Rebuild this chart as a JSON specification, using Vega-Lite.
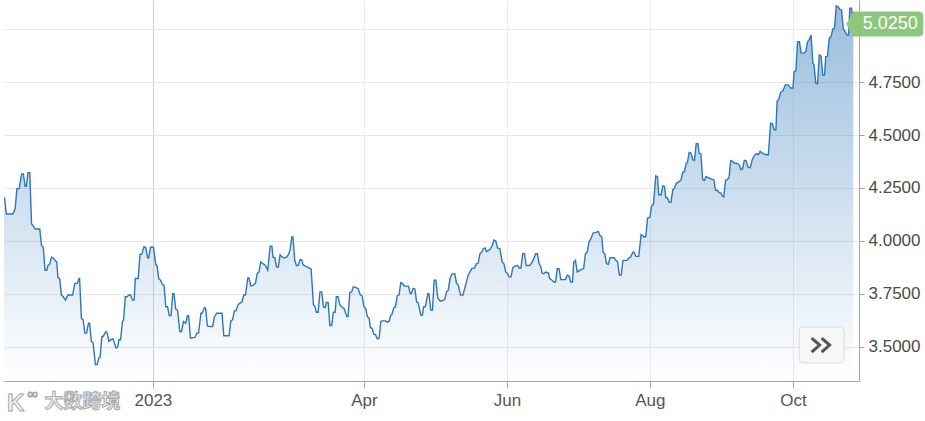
{
  "$schema": "https://vega.github.io/schema/vega-lite/v6.json",
  "width": 855,
  "height": 381,
  "autosize": {"type": "none"},
  "padding": {"left": 4, "top": 0, "right": 66, "bottom": 40},
  "config": {"view": {"stroke": null}, "font": "Liberation Sans", "axis": {"labelFont": "Liberation Sans"}},
  "datasets": {
    "yield": [
{"t":"2022-10-29T12:00","v":4.202},{"t":"2022-10-29T18:00","v":4.202},{"t":"2022-10-30T12:00","v":4.127},{"t":"2022-11-02T06:00","v":4.127},{"t":"2022-11-03T06:00","v":4.15},{"t":"2022-11-04T00:00","v":4.247},{"t":"2022-11-05T00:00","v":4.247},{"t":"2022-11-06T00:00","v":4.316},{"t":"2022-11-06T18:00","v":4.316},{"t":"2022-11-07T12:00","v":4.258},{"t":"2022-11-08T00:00","v":4.258},{"t":"2022-11-08T18:00","v":4.322},{"t":"2022-11-09T12:00","v":4.322},{"t":"2022-11-10T06:00","v":4.08},{"t":"2022-11-11T00:00","v":4.07},{"t":"2022-11-11T18:00","v":4.056},{"t":"2022-11-13T18:00","v":4.056},{"t":"2022-11-14T12:00","v":3.978},{"t":"2022-11-15T06:00","v":3.97},{"t":"2022-11-16T00:00","v":3.861},{"t":"2022-11-16T18:00","v":3.861},{"t":"2022-11-17T06:00","v":3.884},{"t":"2022-11-18T00:00","v":3.89},{"t":"2022-11-18T18:00","v":3.923},{"t":"2022-11-19T12:00","v":3.92},{"t":"2022-11-20T06:00","v":3.908},{"t":"2022-11-21T00:00","v":3.9},{"t":"2022-11-21T12:00","v":3.827},{"t":"2022-11-22T06:00","v":3.82},{"t":"2022-11-23T00:00","v":3.744},{"t":"2022-11-23T18:00","v":3.736},{"t":"2022-11-24T18:00","v":3.72},{"t":"2022-11-25T18:00","v":3.744},{"t":"2022-11-27T18:00","v":3.744},{"t":"2022-11-28T18:00","v":3.799},{"t":"2022-11-29T18:00","v":3.799},{"t":"2022-11-30T12:00","v":3.822},{"t":"2022-11-30T18:00","v":3.822},{"t":"2022-12-01T12:00","v":3.634},{"t":"2022-12-02T06:00","v":3.627},{"t":"2022-12-03T00:00","v":3.564},{"t":"2022-12-03T18:00","v":3.564},{"t":"2022-12-04T12:00","v":3.611},{"t":"2022-12-05T00:00","v":3.611},{"t":"2022-12-05T18:00","v":3.525},{"t":"2022-12-06T12:00","v":3.517},{"t":"2022-12-07T12:00","v":3.416},{"t":"2022-12-08T06:00","v":3.416},{"t":"2022-12-09T00:00","v":3.447},{"t":"2022-12-09T12:00","v":3.451},{"t":"2022-12-10T06:00","v":3.548},{"t":"2022-12-10T18:00","v":3.548},{"t":"2022-12-12T00:00","v":3.572},{"t":"2022-12-12T12:00","v":3.564},{"t":"2022-12-13T06:00","v":3.525},{"t":"2022-12-14T00:00","v":3.533},{"t":"2022-12-15T00:00","v":3.537},{"t":"2022-12-16T06:00","v":3.494},{"t":"2022-12-17T00:00","v":3.498},{"t":"2022-12-17T12:00","v":3.533},{"t":"2022-12-18T06:00","v":3.533},{"t":"2022-12-19T00:00","v":3.619},{"t":"2022-12-19T12:00","v":3.627},{"t":"2022-12-20T06:00","v":3.736},{"t":"2022-12-21T00:00","v":3.736},{"t":"2022-12-21T18:00","v":3.744},{"t":"2022-12-22T12:00","v":3.744},{"t":"2022-12-23T06:00","v":3.72},{"t":"2022-12-24T00:00","v":3.72},{"t":"2022-12-24T12:00","v":3.822},{"t":"2022-12-25T18:00","v":3.822},{"t":"2022-12-26T12:00","v":3.936},{"t":"2022-12-27T06:00","v":3.936},{"t":"2022-12-28T06:00","v":3.973},{"t":"2022-12-29T00:00","v":3.967},{"t":"2022-12-29T18:00","v":3.92},{"t":"2022-12-30T06:00","v":3.92},{"t":"2022-12-31T00:00","v":3.97},{"t":"2023-01-01T06:00","v":3.97},{"t":"2023-01-02T06:00","v":3.888},{"t":"2023-01-02T18:00","v":3.884},{"t":"2023-01-03T12:00","v":3.822},{"t":"2023-01-04T06:00","v":3.814},{"t":"2023-01-05T00:00","v":3.795},{"t":"2023-01-05T18:00","v":3.79},{"t":"2023-01-06T12:00","v":3.689},{"t":"2023-01-07T06:00","v":3.689},{"t":"2023-01-08T00:00","v":3.647},{"t":"2023-01-08T18:00","v":3.647},{"t":"2023-01-09T12:00","v":3.751},{"t":"2023-01-10T00:00","v":3.751},{"t":"2023-01-10T18:00","v":3.678},{"t":"2023-01-11T12:00","v":3.673},{"t":"2023-01-12T12:00","v":3.572},{"t":"2023-01-13T06:00","v":3.572},{"t":"2023-01-14T00:00","v":3.619},{"t":"2023-01-15T00:00","v":3.611},{"t":"2023-01-15T18:00","v":3.647},{"t":"2023-01-16T06:00","v":3.647},{"t":"2023-01-17T00:00","v":3.541},{"t":"2023-01-19T00:00","v":3.544},{"t":"2023-01-19T18:00","v":3.564},{"t":"2023-01-20T12:00","v":3.564},{"t":"2023-01-21T12:00","v":3.658},{"t":"2023-01-22T00:00","v":3.658},{"t":"2023-01-23T00:00","v":3.686},{"t":"2023-01-23T12:00","v":3.681},{"t":"2023-01-24T06:00","v":3.598},{"t":"2023-01-25T12:00","v":3.595},{"t":"2023-01-26T12:00","v":3.595},{"t":"2023-01-27T06:00","v":3.642},{"t":"2023-01-28T06:00","v":3.658},{"t":"2023-01-30T12:00","v":3.658},{"t":"2023-01-31T06:00","v":3.552},{"t":"2023-02-02T12:00","v":3.552},{"t":"2023-02-03T06:00","v":3.622},{"t":"2023-02-04T00:00","v":3.627},{"t":"2023-02-04T18:00","v":3.669},{"t":"2023-02-05T12:00","v":3.67},{"t":"2023-02-06T06:00","v":3.697},{"t":"2023-02-07T00:00","v":3.705},{"t":"2023-02-08T00:00","v":3.712},{"t":"2023-02-08T18:00","v":3.744},{"t":"2023-02-09T12:00","v":3.744},{"t":"2023-02-10T12:00","v":3.825},{"t":"2023-02-11T00:00","v":3.825},{"t":"2023-02-11T18:00","v":3.787},{"t":"2023-02-12T18:00","v":3.79},{"t":"2023-02-13T18:00","v":3.799},{"t":"2023-02-14T12:00","v":3.845},{"t":"2023-02-15T06:00","v":3.853},{"t":"2023-02-16T00:00","v":3.9},{"t":"2023-02-17T00:00","v":3.892},{"t":"2023-02-18T00:00","v":3.884},{"t":"2023-02-19T00:00","v":3.861},{"t":"2023-02-20T00:00","v":3.975},{"t":"2023-02-20T18:00","v":3.975},{"t":"2023-02-21T06:00","v":3.923},{"t":"2023-02-22T00:00","v":3.92},{"t":"2023-02-22T18:00","v":3.876},{"t":"2023-02-23T12:00","v":3.876},{"t":"2023-02-24T06:00","v":3.934},{"t":"2023-02-25T06:00","v":3.923},{"t":"2023-02-26T00:00","v":3.919},{"t":"2023-02-27T00:00","v":3.923},{"t":"2023-02-27T18:00","v":3.934},{"t":"2023-02-28T12:00","v":3.955},{"t":"2023-03-01T06:00","v":4.019},{"t":"2023-03-01T18:00","v":4.019},{"t":"2023-03-02T12:00","v":3.908},{"t":"2023-03-03T06:00","v":3.884},{"t":"2023-03-04T00:00","v":3.884},{"t":"2023-03-04T18:00","v":3.911},{"t":"2023-03-05T12:00","v":3.911},{"t":"2023-03-06T00:00","v":3.888},{"t":"2023-03-06T18:00","v":3.882},{"t":"2023-03-07T12:00","v":3.878},{"t":"2023-03-08T12:00","v":3.872},{"t":"2023-03-09T12:00","v":3.867},{"t":"2023-03-10T12:00","v":3.697},{"t":"2023-03-11T00:00","v":3.694},{"t":"2023-03-11T18:00","v":3.663},{"t":"2023-03-12T12:00","v":3.663},{"t":"2023-03-13T06:00","v":3.759},{"t":"2023-03-14T00:00","v":3.759},{"t":"2023-03-14T18:00","v":3.689},{"t":"2023-03-15T12:00","v":3.684},{"t":"2023-03-16T00:00","v":3.709},{"t":"2023-03-16T18:00","v":3.709},{"t":"2023-03-17T12:00","v":3.6},{"t":"2023-03-18T06:00","v":3.6},{"t":"2023-03-19T00:00","v":3.663},{"t":"2023-03-19T18:00","v":3.663},{"t":"2023-03-20T06:00","v":3.736},{"t":"2023-03-21T00:00","v":3.736},{"t":"2023-03-21T18:00","v":3.697},{"t":"2023-03-22T12:00","v":3.689},{"t":"2023-03-23T12:00","v":3.681},{"t":"2023-03-24T18:00","v":3.642},{"t":"2023-03-25T06:00","v":3.642},{"t":"2023-03-26T00:00","v":3.756},{"t":"2023-03-26T18:00","v":3.759},{"t":"2023-03-27T12:00","v":3.783},{"t":"2023-03-28T12:00","v":3.78},{"t":"2023-03-29T12:00","v":3.775},{"t":"2023-03-30T12:00","v":3.744},{"t":"2023-03-31T06:00","v":3.741},{"t":"2023-04-01T00:00","v":3.689},{"t":"2023-04-01T18:00","v":3.681},{"t":"2023-04-02T12:00","v":3.642},{"t":"2023-04-03T06:00","v":3.634},{"t":"2023-04-03T18:00","v":3.591},{"t":"2023-04-04T12:00","v":3.587},{"t":"2023-04-05T06:00","v":3.559},{"t":"2023-04-06T00:00","v":3.556},{"t":"2023-04-06T18:00","v":3.537},{"t":"2023-04-07T12:00","v":3.541},{"t":"2023-04-08T06:00","v":3.619},{"t":"2023-04-08T18:00","v":3.622},{"t":"2023-04-10T06:00","v":3.622},{"t":"2023-04-11T00:00","v":3.616},{"t":"2023-04-11T18:00","v":3.619},{"t":"2023-04-12T12:00","v":3.65},{"t":"2023-04-13T00:00","v":3.653},{"t":"2023-04-13T18:00","v":3.684},{"t":"2023-04-14T12:00","v":3.689},{"t":"2023-04-15T06:00","v":3.741},{"t":"2023-04-16T00:00","v":3.744},{"t":"2023-04-16T18:00","v":3.803},{"t":"2023-04-17T12:00","v":3.798},{"t":"2023-04-18T06:00","v":3.787},{"t":"2023-04-20T00:00","v":3.786},{"t":"2023-04-20T18:00","v":3.751},{"t":"2023-04-21T06:00","v":3.751},{"t":"2023-04-22T00:00","v":3.775},{"t":"2023-04-22T18:00","v":3.772},{"t":"2023-04-23T12:00","v":3.712},{"t":"2023-04-24T06:00","v":3.705},{"t":"2023-04-25T06:00","v":3.65},{"t":"2023-04-26T00:00","v":3.65},{"t":"2023-04-26T12:00","v":3.689},{"t":"2023-04-27T06:00","v":3.689},{"t":"2023-04-28T06:00","v":3.751},{"t":"2023-04-28T18:00","v":3.751},{"t":"2023-04-29T12:00","v":3.673},{"t":"2023-04-30T06:00","v":3.673},{"t":"2023-05-01T00:00","v":3.814},{"t":"2023-05-01T18:00","v":3.814},{"t":"2023-05-02T12:00","v":3.731},{"t":"2023-05-03T12:00","v":3.716},{"t":"2023-05-04T06:00","v":3.716},{"t":"2023-05-05T12:00","v":3.724},{"t":"2023-05-06T06:00","v":3.759},{"t":"2023-05-07T00:00","v":3.767},{"t":"2023-05-07T18:00","v":3.822},{"t":"2023-05-08T12:00","v":3.842},{"t":"2023-05-09T18:00","v":3.845},{"t":"2023-05-10T12:00","v":3.799},{"t":"2023-05-11T06:00","v":3.791},{"t":"2023-05-12T06:00","v":3.744},{"t":"2023-05-13T06:00","v":3.744},{"t":"2023-05-14T00:00","v":3.775},{"t":"2023-05-14T18:00","v":3.806},{"t":"2023-05-15T12:00","v":3.838},{"t":"2023-05-17T00:00","v":3.869},{"t":"2023-05-18T06:00","v":3.872},{"t":"2023-05-19T00:00","v":3.892},{"t":"2023-05-19T18:00","v":3.895},{"t":"2023-05-20T12:00","v":3.939},{"t":"2023-05-21T06:00","v":3.947},{"t":"2023-05-22T00:00","v":3.963},{"t":"2023-05-22T18:00","v":3.967},{"t":"2023-05-23T06:00","v":3.95},{"t":"2023-05-24T06:00","v":3.955},{"t":"2023-05-25T00:00","v":3.963},{"t":"2023-05-25T18:00","v":3.978},{"t":"2023-05-26T12:00","v":4.004},{"t":"2023-05-27T06:00","v":4.0},{"t":"2023-05-28T00:00","v":3.967},{"t":"2023-05-29T00:00","v":3.963},{"t":"2023-05-30T00:00","v":3.9},{"t":"2023-05-30T18:00","v":3.892},{"t":"2023-05-31T12:00","v":3.853},{"t":"2023-06-01T06:00","v":3.845},{"t":"2023-06-02T00:00","v":3.83},{"t":"2023-06-02T18:00","v":3.83},{"t":"2023-06-03T12:00","v":3.872},{"t":"2023-06-04T06:00","v":3.88},{"t":"2023-06-05T12:00","v":3.884},{"t":"2023-06-06T06:00","v":3.872},{"t":"2023-06-07T00:00","v":3.872},{"t":"2023-06-07T18:00","v":3.939},{"t":"2023-06-08T12:00","v":3.939},{"t":"2023-06-09T06:00","v":3.884},{"t":"2023-06-10T18:00","v":3.884},{"t":"2023-06-11T12:00","v":3.895},{"t":"2023-06-12T12:00","v":3.916},{"t":"2023-06-13T06:00","v":3.939},{"t":"2023-06-14T00:00","v":3.939},{"t":"2023-06-14T18:00","v":3.892},{"t":"2023-06-15T12:00","v":3.877},{"t":"2023-06-16T00:00","v":3.848},{"t":"2023-06-16T18:00","v":3.845},{"t":"2023-06-17T12:00","v":3.853},{"t":"2023-06-18T18:00","v":3.848},{"t":"2023-06-19T06:00","v":3.822},{"t":"2023-06-20T06:00","v":3.814},{"t":"2023-06-21T00:00","v":3.806},{"t":"2023-06-21T18:00","v":3.806},{"t":"2023-06-22T12:00","v":3.869},{"t":"2023-06-23T06:00","v":3.869},{"t":"2023-06-24T00:00","v":3.817},{"t":"2023-06-26T00:00","v":3.817},{"t":"2023-06-26T18:00","v":3.838},{"t":"2023-06-27T12:00","v":3.834},{"t":"2023-06-28T06:00","v":3.806},{"t":"2023-06-29T00:00","v":3.806},{"t":"2023-06-29T12:00","v":3.9},{"t":"2023-06-30T06:00","v":3.908},{"t":"2023-07-01T00:00","v":3.853},{"t":"2023-07-01T18:00","v":3.858},{"t":"2023-07-02T12:00","v":3.864},{"t":"2023-07-03T18:00","v":3.869},{"t":"2023-07-04T12:00","v":3.939},{"t":"2023-07-05T06:00","v":3.947},{"t":"2023-07-06T00:00","v":3.994},{"t":"2023-07-06T18:00","v":4.008},{"t":"2023-07-07T18:00","v":4.037},{"t":"2023-07-09T00:00","v":4.04},{"t":"2023-07-10T00:00","v":4.045},{"t":"2023-07-10T18:00","v":4.024},{"t":"2023-07-11T12:00","v":4.018},{"t":"2023-07-12T00:00","v":3.947},{"t":"2023-07-12T18:00","v":3.939},{"t":"2023-07-13T12:00","v":3.892},{"t":"2023-07-14T06:00","v":3.889},{"t":"2023-07-15T00:00","v":3.92},{"t":"2023-07-16T18:00","v":3.92},{"t":"2023-07-17T12:00","v":3.908},{"t":"2023-07-18T06:00","v":3.9},{"t":"2023-07-19T00:00","v":3.838},{"t":"2023-07-19T18:00","v":3.838},{"t":"2023-07-20T12:00","v":3.908},{"t":"2023-07-22T06:00","v":3.908},{"t":"2023-07-23T00:00","v":3.919},{"t":"2023-07-23T18:00","v":3.923},{"t":"2023-07-24T18:00","v":3.947},{"t":"2023-07-25T06:00","v":3.947},{"t":"2023-07-26T00:00","v":3.927},{"t":"2023-07-27T06:00","v":3.927},{"t":"2023-07-28T06:00","v":4.03},{"t":"2023-07-29T00:00","v":4.024},{"t":"2023-07-29T12:00","v":4.018},{"t":"2023-07-30T06:00","v":4.021},{"t":"2023-07-31T00:00","v":4.108},{"t":"2023-08-01T00:00","v":4.112},{"t":"2023-08-01T18:00","v":4.166},{"t":"2023-08-02T12:00","v":4.171},{"t":"2023-08-03T12:00","v":4.307},{"t":"2023-08-04T06:00","v":4.303},{"t":"2023-08-04T18:00","v":4.218},{"t":"2023-08-05T18:00","v":4.218},{"t":"2023-08-06T12:00","v":4.26},{"t":"2023-08-07T06:00","v":4.257},{"t":"2023-08-07T18:00","v":4.205},{"t":"2023-08-08T12:00","v":4.202},{"t":"2023-08-09T06:00","v":4.182},{"t":"2023-08-10T00:00","v":4.182},{"t":"2023-08-10T18:00","v":4.241},{"t":"2023-08-11T12:00","v":4.249},{"t":"2023-08-12T06:00","v":4.272},{"t":"2023-08-12T18:00","v":4.275},{"t":"2023-08-13T12:00","v":4.28},{"t":"2023-08-14T06:00","v":4.288},{"t":"2023-08-15T00:00","v":4.323},{"t":"2023-08-15T18:00","v":4.328},{"t":"2023-08-16T12:00","v":4.367},{"t":"2023-08-17T00:00","v":4.37},{"t":"2023-08-17T18:00","v":4.418},{"t":"2023-08-18T12:00","v":4.415},{"t":"2023-08-19T06:00","v":4.384},{"t":"2023-08-20T00:00","v":4.38},{"t":"2023-08-20T18:00","v":4.459},{"t":"2023-08-21T12:00","v":4.459},{"t":"2023-08-22T00:00","v":4.415},{"t":"2023-08-22T18:00","v":4.412},{"t":"2023-08-23T12:00","v":4.289},{"t":"2023-08-24T06:00","v":4.286},{"t":"2023-08-25T00:00","v":4.304},{"t":"2023-08-26T06:00","v":4.297},{"t":"2023-08-27T06:00","v":4.292},{"t":"2023-08-28T06:00","v":4.289},{"t":"2023-08-29T00:00","v":4.239},{"t":"2023-08-29T18:00","v":4.239},{"t":"2023-08-30T12:00","v":4.229},{"t":"2023-08-31T06:00","v":4.226},{"t":"2023-09-01T00:00","v":4.211},{"t":"2023-09-01T12:00","v":4.208},{"t":"2023-09-02T06:00","v":4.286},{"t":"2023-09-03T00:00","v":4.289},{"t":"2023-09-03T18:00","v":4.3},{"t":"2023-09-04T12:00","v":4.38},{"t":"2023-09-05T06:00","v":4.376},{"t":"2023-09-06T00:00","v":4.368},{"t":"2023-09-07T12:00","v":4.365},{"t":"2023-09-08T06:00","v":4.356},{"t":"2023-09-08T18:00","v":4.337},{"t":"2023-09-09T12:00","v":4.34},{"t":"2023-09-10T06:00","v":4.38},{"t":"2023-09-11T00:00","v":4.38},{"t":"2023-09-11T18:00","v":4.349},{"t":"2023-09-12T18:00","v":4.345},{"t":"2023-09-13T18:00","v":4.387},{"t":"2023-09-14T18:00","v":4.407},{"t":"2023-09-15T12:00","v":4.412},{"t":"2023-09-16T06:00","v":4.407},{"t":"2023-09-17T00:00","v":4.423},{"t":"2023-09-18T06:00","v":4.412},{"t":"2023-09-19T18:00","v":4.407},{"t":"2023-09-20T12:00","v":4.407},{"t":"2023-09-21T12:00","v":4.556},{"t":"2023-09-22T06:00","v":4.553},{"t":"2023-09-23T00:00","v":4.525},{"t":"2023-09-23T18:00","v":4.525},{"t":"2023-09-24T06:00","v":4.659},{"t":"2023-09-25T00:00","v":4.669},{"t":"2023-09-25T18:00","v":4.701},{"t":"2023-09-26T18:00","v":4.709},{"t":"2023-09-27T18:00","v":4.737},{"t":"2023-09-29T00:00","v":4.737},{"t":"2023-09-30T00:00","v":4.722},{"t":"2023-10-01T00:00","v":4.722},{"t":"2023-10-01T12:00","v":4.8},{"t":"2023-10-02T06:00","v":4.805},{"t":"2023-10-03T00:00","v":4.941},{"t":"2023-10-03T18:00","v":4.941},{"t":"2023-10-04T12:00","v":4.887},{"t":"2023-10-05T12:00","v":4.887},{"t":"2023-10-06T12:00","v":4.894},{"t":"2023-10-07T06:00","v":4.941},{"t":"2023-10-08T00:00","v":4.952},{"t":"2023-10-08T18:00","v":4.973},{"t":"2023-10-09T12:00","v":4.839},{"t":"2023-10-10T00:00","v":4.832},{"t":"2023-10-10T18:00","v":4.745},{"t":"2023-10-11T12:00","v":4.742},{"t":"2023-10-12T06:00","v":4.879},{"t":"2023-10-13T00:00","v":4.874},{"t":"2023-10-13T18:00","v":4.784},{"t":"2023-10-14T12:00","v":4.784},{"t":"2023-10-15T00:00","v":4.87},{"t":"2023-10-15T18:00","v":4.873},{"t":"2023-10-16T12:00","v":4.957},{"t":"2023-10-17T06:00","v":4.965},{"t":"2023-10-18T00:00","v":5.0},{"t":"2023-10-18T18:00","v":5.005},{"t":"2023-10-19T12:00","v":5.11},{"t":"2023-10-20T06:00","v":5.106},{"t":"2023-10-21T00:00","v":5.094},{"t":"2023-10-21T18:00","v":5.091},{"t":"2023-10-22T12:00","v":5.0},{"t":"2023-10-23T06:00","v":4.989},{"t":"2023-10-24T00:00","v":4.973},{"t":"2023-10-24T18:00","v":4.973},{"t":"2023-10-25T06:00","v":5.099},{"t":"2023-10-26T00:00","v":5.099},{"t":"2023-10-26T18:00","v":5.025}
    ],
    "last": [{"t": "2023-10-26T18:00", "v": 5.025, "label": "5.0250"}],
    "button": [{"t": "2023-10-13T06:00", "v": 3.508}],
    "brand": [{"t": "2022-12-02T00:00", "v": 3.2387, "label": "大数跨境"}],
    "logo": [{"t": "2022-11-03T12:00", "v": 3.229, "label": "K"}],
    "logo2": [{"t": "2022-11-10T18:00", "v": 3.2765, "label": "∞"}]
  },
  "encoding": {
    "x": {
      "field": "t", "type": "temporal",
      "scale": {"domain": [{"year": 2022, "month": 10, "date": 29, "hours": 12}, {"year": 2023, "month": 10, "date": 29, "hours": 4, "minutes": 30}]},
      "axis": {
        "title": null,
        "values": [{"year": 2023, "month": 1, "date": 1}, {"year": 2023, "month": 4, "date": 1}, {"year": 2023, "month": 6, "date": 1}, {"year": 2023, "month": 8, "date": 1}, {"year": 2023, "month": 10, "date": 1}],
        "labelExpr": "month(datum.value) === 0 ? timeFormat(datum.value, '%Y') : timeFormat(datum.value, '%b')",
        "grid": true,
        "gridColor": {"condition": {"test": "month(datum.value) === 0", "value": "#d2d2d2"}, "value": "#ebebeb"},
        "gridWidth": 1,
        "domainColor": "#a6a6a6",
        "tickColor": "#a6a6a6",
        "tickSize": 7,
        "labelPadding": 4,
        "labelFontSize": 17,
        "labelColor": "#555555",
        "labelFlush": false,
        "labelOverlap": false
      }
    },
    "y": {
      "field": "v", "type": "quantitative",
      "scale": {"domain": [3.338, 5.138], "nice": false, "zero": false},
      "axis": {
        "title": null,
        "orient": "right",
        "values": [3.5, 3.75, 4.0, 4.25, 4.5, 4.75, 5.0],
        "labelExpr": "datum.value >= 5 ? '' : format(datum.value, '.4f')",
        "grid": true,
        "gridColor": "#e8e8e8",
        "domainColor": "#a6a6a6",
        "tickColor": "#a6a6a6",
        "tickSize": 5,
        "labelPadding": 4,
        "labelFontSize": 17,
        "labelColor": "#4a4a4a",
        "labelBaseline": "middle"
      }
    }
  },
  "layer": [
    {
      "data": {"name": "yield"},
      "mark": {
        "type": "area",
        "fill": {"gradient": "linear", "x1": 0, "y1": 0, "x2": 0, "y2": 1, "stops": [{"offset": 0, "color": "rgba(45,119,185,0.48)"}, {"offset": 1, "color": "rgba(45,119,185,0.0)"}]}
      },
      "encoding": {"y2": {"datum": 3.338}}
    },
    {
      "data": {"name": "yield"},
      "mark": {"type": "line", "color": "#2d77b9", "strokeWidth": 1.4}
    },
    {
      "data": {"name": "last"},
      "mark": {"type": "point", "shape": "M-7,0L0,-12.5L65,-12.5Q70,-12.5 70,-7.5L70,7.5Q70,12.5 65,12.5L0,12.5Z", "size": 4, "filled": true, "fill": "#8dc77b", "strokeWidth": 0, "opacity": 1}
    },
    {
      "data": {"name": "last"},
      "mark": {"type": "text", "dx": 37, "align": "center", "baseline": "middle", "fontSize": 18, "color": "#ffffff"},
      "encoding": {"text": {"field": "label"}}
    },
    {
      "data": {"name": "button"},
      "mark": {"type": "point", "shape": "M-22.5,-13Q-22.5,-18 -17.5,-18L17.5,-18Q22.5,-18 22.5,-13L22.5,13Q22.5,18 17.5,18L-17.5,18Q-22.5,18 -22.5,13Z", "size": 4, "filled": true, "fill": "#f7f7f7", "stroke": "#dadada", "strokeWidth": 1, "opacity": 1}
    },
    {
      "data": {"name": "button"},
      "mark": {"type": "point", "shape": "M-10,-7L-2,0L-10,7M0,-7L8,0L0,7", "size": 4, "filled": false, "stroke": "#555555", "strokeWidth": 3, "opacity": 1}
    },
    {
      "data": {"name": "brand"},
      "mark": {"type": "text", "align": "center", "baseline": "middle", "font": "Noto Sans CJK SC", "fontSize": 19, "fontWeight": "bold", "fill": "#f2f2f2", "stroke": "#a8a8a8", "strokeWidth": 1},
      "encoding": {"text": {"field": "label"}}
    },
    {
      "data": {"name": "logo"},
      "mark": {"type": "text", "align": "center", "baseline": "middle", "font": "Liberation Sans", "fontSize": 24, "fontWeight": "bold", "fill": "#f2f2f2", "stroke": "#a8a8a8", "strokeWidth": 1},
      "encoding": {"text": {"field": "label"}}
    },
    {
      "data": {"name": "logo2"},
      "mark": {"type": "text", "align": "center", "baseline": "middle", "font": "DejaVu Sans", "fontSize": 15, "fill": "#f2f2f2", "stroke": "#a8a8a8", "strokeWidth": 1},
      "encoding": {"text": {"field": "label"}}
    }
  ]
}
